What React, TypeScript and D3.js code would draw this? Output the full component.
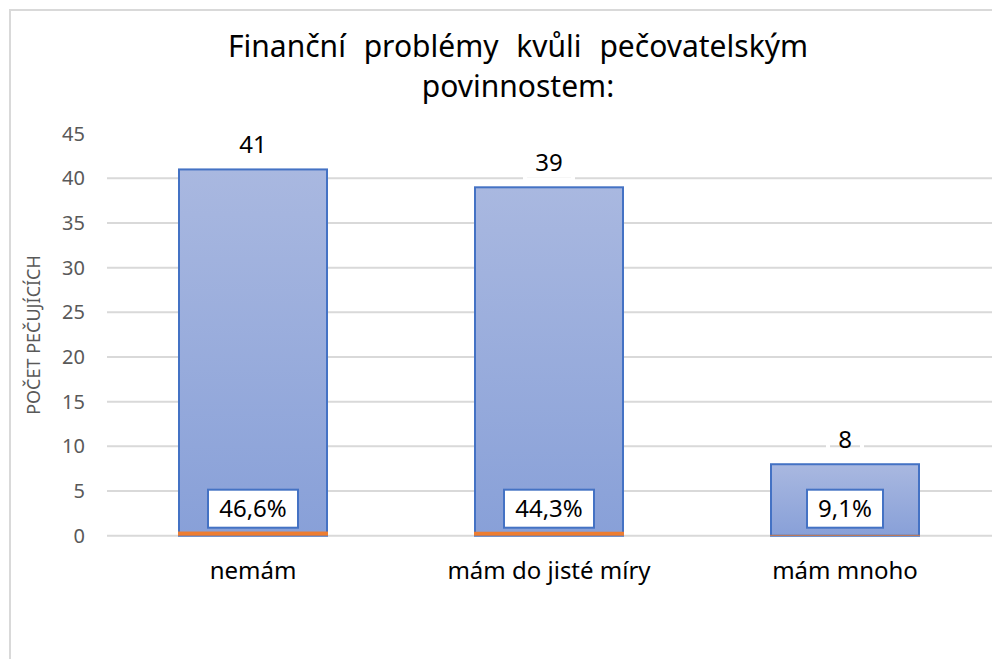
import React from "react";
import * as d3 from "d3";

const titleLines = ["Finanční problémy kvůli pečovatelským", "povinnostem:"];
const yAxisTitle = "POČET PEČUJÍCÍCH";
const categories = ["nemám", "mám do jisté míry", "mám mnoho"];
const counts = [41, 39, 8];
const shares = [0.466, 0.443, 0.091];
const shareLabels = ["46,6%", "44,3%", "9,1%"];
const yTicks = [0, 5, 10, 15, 20, 25, 30, 35, 40, 45];

const W = 992;
const H = 659;
const FONT = "'Noto Sans', 'Open Sans', sans-serif";

export default function App() {
  const x = d3
    .scaleBand<string>()
    .domain(categories)
    .range([105, 993])
    .paddingInner(0.5)
    .paddingOuter(0.25);
  const y = d3.scaleLinear().domain([0, 45]).range([535.7, 133.7]);
  const bw = x.bandwidth();

  return (
    <svg
      width={W}
      height={H}
      style={{ position: "absolute", left: 0, top: 0, background: "#fff" }}
      fontFamily={FONT}
    >
      <defs>
        <linearGradient id="barGrad" x1="0" y1="0" x2="0" y2="1">
          <stop offset="0%" stopColor="#a9b8e0" />
          <stop offset="100%" stopColor="#88a0d8" />
        </linearGradient>
      </defs>
      <rect x={0} y={0} width={W} height={H} fill="#fff" />
      {/* frame */}
      <rect x={10} y={10} width={W + 20} height={H + 20} fill="none" stroke="#d9d9d9" strokeWidth={2} />

      {/* title */}
      {titleLines.map((t, i) => (
        <text
          key={i}
          x={518}
          y={57 + i * 40}
          textAnchor="middle"
          fontSize={30}
          fill="#000"
          wordSpacing={10}
        >
          {t}
        </text>
      ))}

      {/* gridlines */}
      {yTicks
        .filter((t) => t < 45)
        .map((t) => (
          <line key={t} x1={107} x2={W} y1={y(t)} y2={y(t)} stroke="#d9d9d9" strokeWidth={2} />
        ))}

      {/* y tick labels */}
      {yTicks.map((t) => (
        <text key={t} x={85} y={y(t)} dy="0.35em" textAnchor="end" fontSize={20} fill="#595959">
          {t}
        </text>
      ))}

      {/* y axis title */}
      <text
        transform={`translate(40,335) rotate(-90)`}
        textAnchor="middle"
        fontSize={18}
        fill="#595959"
      >
        {yAxisTitle}
      </text>

      {/* bars */}
      {categories.map((c, i) => (
        <rect
          key={c}
          x={x(c)!}
          y={y(counts[i])}
          width={bw}
          height={y(0) - y(counts[i])}
          fill="url(#barGrad)"
          stroke="#4472c4"
          strokeWidth={2}
        />
      ))}
      {/* share series */}
      {categories.map((c, i) => (
        <rect
          key={c + "s"}
          x={x(c)! - 1}
          y={y(shares[i])}
          width={bw + 2}
          height={y(0) - y(shares[i])}
          fill="#ed7d31"
        />
      ))}

      {/* count labels */}
      {categories.map((c, i) => {
        const cx = x(c)! + bw / 2;
        const cy = y(counts[i]) - 25;
        const w = String(counts[i]).length * 14 + 20;
        return (
          <g key={c + "l"}>
            <rect x={cx - w / 2} y={cy - 17} width={w} height={34} fill="none" stroke="#fff" strokeWidth={4} />
            <text x={cx} y={cy} dy="0.35em" textAnchor="middle" fontSize={24} fill="#000">
              {counts[i]}
            </text>
          </g>
        );
      })}

      {/* share labels */}
      {categories.map((c, i) => {
        const cx = x(c)! + bw / 2;
        const cy = y(0) - 27;
        const w = shareLabels[i].length * 14 + 20;
        return (
          <g key={c + "p"}>
            <rect x={cx - w / 2} y={cy - 19} width={w} height={38} fill="#fff" stroke="#4472c4" strokeWidth={2} />
            <text x={cx} y={cy} dy="0.35em" textAnchor="middle" fontSize={24} fill="#000">
              {shareLabels[i]}
            </text>
          </g>
        );
      })}

      {/* category labels */}
      {categories.map((c) => (
        <text key={c + "c"} x={x(c)! + bw / 2} y={571} dy="0.35em" textAnchor="middle" fontSize={24} fill="#000">
          {c}
        </text>
      ))}
    </svg>
  );
}
